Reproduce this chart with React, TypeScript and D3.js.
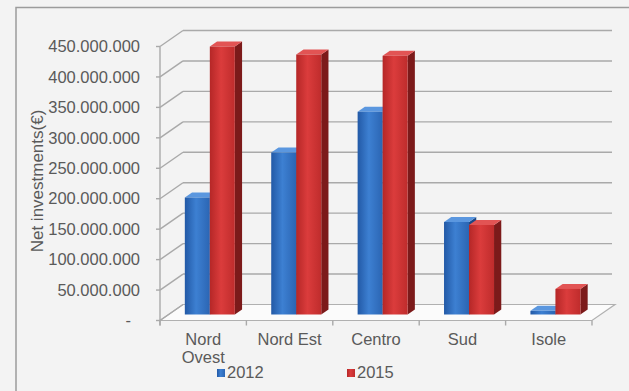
import React from "react";
import * as d3 from "d3";

const categories = ["Nord Ovest", "Nord Est", "Centro", "Sud", "Isole"];
const categoryLines = [["Nord", "Ovest"], ["Nord Est"], ["Centro"], ["Sud"], ["Isole"]];
const seriesNames = ["2012", "2015"];
const values2012 = [192000000, 266000000, 333000000, 152000000, 6000000];
const values2015 = [440000000, 427000000, 425000000, 147000000, 42000000];
const yTicks = [0, 50000000, 100000000, 150000000, 200000000, 250000000, 300000000, 350000000, 400000000, 450000000];

const W = 629;
const H = 391;
const DX = 23;
const DY = 16;
const FONT = "'Liberation Sans', Arial, sans-serif";

const itLocale = d3.formatLocale({ decimal: ",", thousands: ".", grouping: [3], currency: ["€", ""] });
const fmt = itLocale.format(",d");

export default function App() {
  const x = d3.scaleBand<string>().domain(categories).range([160, 592]).padding(0);
  const y = d3.scaleLinear().domain([0, 450000000]).range([320.5, 46.5]);
  const bw = x.bandwidth();
  const barW = 25;
  const groupOff = (bw - 2 * barW) / 2 - 2;
  const xs = d3.scaleBand<string>().domain(seriesNames).range([0, 2 * barW]);
  const zf = 0.375;
  const zb = 0.69;
  const P = (px: number, v: number, z: number): [number, number] => [px + z * DX, y(v) - z * DY];
  const poly = (pts: [number, number][]) => pts.map((p) => p.join(",")).join(" ");

  const seriesVals = [values2012, values2015];
  const fronts = ["url(#gBlue)", "url(#gRed)"];
  const sides = ["#1d4784", "#7c1a1a"];
  const tops = ["#5b97df", "#e25454"];

  const bars: JSX.Element[] = [];
  categories.forEach((c, ci) => {
    seriesNames.forEach((s, si) => {
      const v = seriesVals[si][ci];
      const x0 = (x(c) as number) + groupOff + (xs(s) as number);
      const x1 = x0 + xs.bandwidth();
      const f0 = P(x0, 0, zf), f1 = P(x1, 0, zf), f2 = P(x1, v, zf), f3 = P(x0, v, zf);
      const b1 = P(x1, 0, zb), b2 = P(x1, v, zb), b3 = P(x0, v, zb);
      bars.push(
        <g key={c + s}>
          <polygon points={poly([f1, b1, b2, f2])} fill={sides[si]} />
          <polygon points={poly([f3, f2, b2, b3])} fill={tops[si]} />
          <polygon points={poly([f0, f1, f2, f3])} fill={fronts[si]} />
        </g>
      );
    });
  });

  const y0 = y(0);
  return (
    <svg width={W} height={H} style={{ position: "absolute", left: 0, top: 0 }} fontFamily={FONT}>
      <defs>
        <linearGradient id="gBlue" x1="0" x2="1" y1="0" y2="0">
          <stop offset="0" stopColor="#2259a6" />
          <stop offset="0.45" stopColor="#3d80d2" />
          <stop offset="1" stopColor="#2b65b3" />
        </linearGradient>
        <linearGradient id="gRed" x1="0" x2="1" y1="0" y2="0">
          <stop offset="0" stopColor="#b52727" />
          <stop offset="0.45" stopColor="#db3c3c" />
          <stop offset="1" stopColor="#bf2c2c" />
        </linearGradient>
      </defs>
      <rect x={0} y={0} width={W} height={H} fill="#f3f3f3" />
      <rect x={16} y={7.5} width={700} height={500} fill="none" stroke="#9c9c9c" strokeWidth={1.5} />
      {/* floor */}
      <polygon
        points={poly([[160, y0], [592, y0], [592 + DX, y0 - DY], [160 + DX, y0 - DY]])}
        fill="#fbfbfb"
        stroke="#b0b0b0"
        strokeWidth={1.2}
      />
      {/* grid */}
      {yTicks.map((t) => (
        <g key={t} stroke="#a9a9a9" strokeWidth={1.4} fill="none">
          <line x1={160} y1={y(t)} x2={160 + DX} y2={y(t) - DY} />
          {t > 0 && <line x1={160 + DX} y1={y(t) - DY} x2={612} y2={y(t) - DY} />}
          <line x1={156} y1={y(t)} x2={160} y2={y(t)} />
        </g>
      ))}
      <line x1={160} y1={y(450000000)} x2={160} y2={y0 + 5} stroke="#a9a9a9" strokeWidth={1.4} />
      {d3.range(categories.length + 1).map((i) => {
        const tx = 160 + i * bw;
        return <line key={i} x1={tx} y1={y0} x2={tx} y2={y0 + 5} stroke="#a9a9a9" strokeWidth={1.4} />;
      })}
      {bars}
      {/* y tick labels */}
      {yTicks.map((t) => (
        <text
          key={t}
          x={t === 0 ? 131 : 140}
          y={y(t)}
          dy="0.35em"
          textAnchor="end"
          fontSize={16.5}
          fill="#5a5a5a"
        >
          {t === 0 ? "-" : fmt(t)}
        </text>
      ))}
      <text
        transform={`translate(43,181) rotate(-90)`}
        textAnchor="middle"
        fontSize={17}
        fill="#5a5a5a"
      >
        Net investments(€)
      </text>
      {/* category labels */}
      {categories.map((c, ci) => (
        <text key={c} x={(x(c) as number) + bw / 2} y={345} textAnchor="middle" fontSize={16.5} fill="#5a5a5a">
          {categoryLines[ci].map((ln, li) => (
            <tspan key={li} x={(x(c) as number) + bw / 2} dy={li === 0 ? 0 : 18}>
              {ln}
            </tspan>
          ))}
        </text>
      ))}
      {/* legend */}
      {seriesNames.map((s, si) => {
        const lx = si === 0 ? 217 : 347;
        return (
          <g key={s}>
            <rect x={lx} y={369} width={8} height={8} fill={fronts[si]} />
            <text x={lx + 10} y={378} fontSize={16.5} fill="#5a5a5a">
              {s}
            </text>
          </g>
        );
      })}
    </svg>
  );
}
